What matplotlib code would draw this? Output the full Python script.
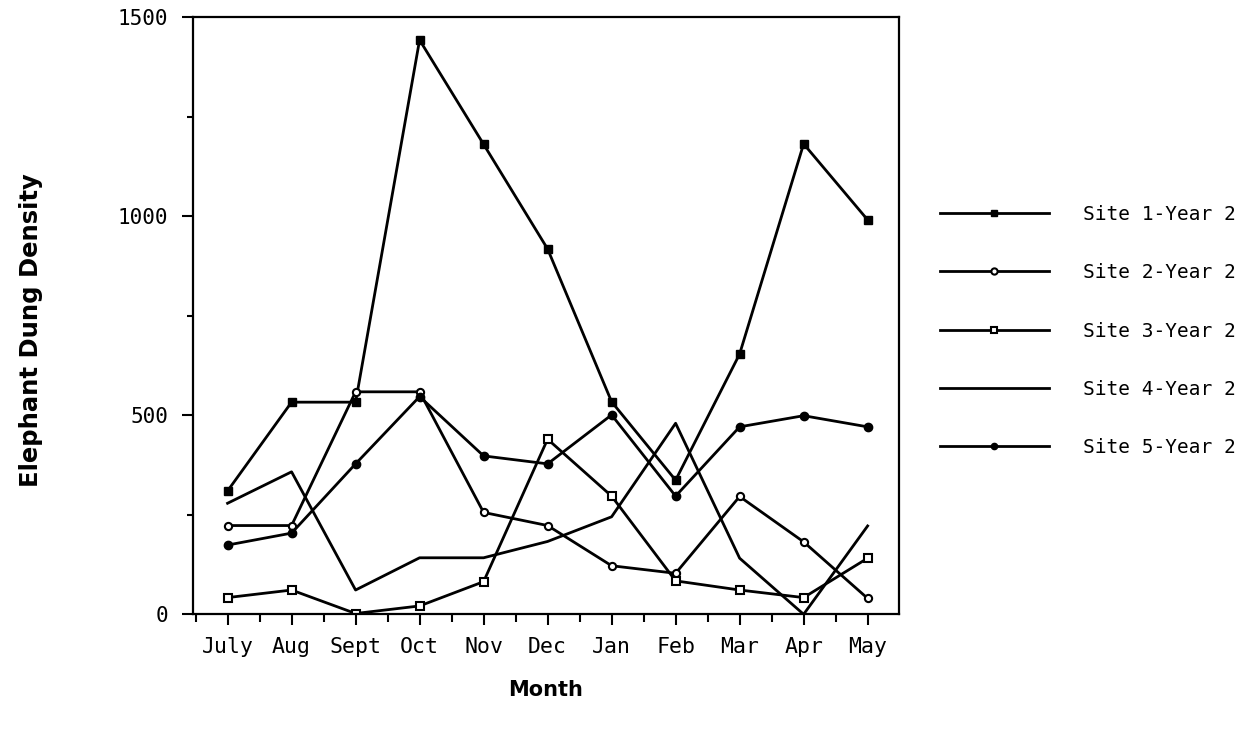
import matplotlib
matplotlib.use("Agg")
import matplotlib.pyplot as plt
from matplotlib.ticker import FixedLocator, MultipleLocator

# Monthly elephant dung density, second survey year
months = ["July", "Aug", "Sept", "Oct", "Nov", "Dec", "Jan", "Feb", "Mar", "Apr", "May"]
site1 = [310, 533, 533, 1443, 1181, 918, 534, 337, 654, 1182, 991]
site2 = [223, 223, 559, 559, 256, 223, 122, 103, 296, 182, 40]
site3 = [42, 61, 2, 21, 82, 440, 297, 84, 61, 42, 141]
site4 = [279, 358, 61, 142, 142, 183, 245, 480, 141, 0, 222]
site5 = [174, 204, 378, 547, 398, 378, 501, 297, 471, 499, 471]
series_labels = ["Site 1-Year 2", "Site 2-Year 2", "Site 3-Year 2",
                 "Site 4-Year 2", "Site 5-Year 2"]

W, H, DPI = 1257, 735, 100
fig = plt.figure(figsize=(W / DPI, H / DPI), dpi=DPI)
ax = fig.add_axes([193 / W, 1 - 614.3 / H, (899 - 193) / W, (614.3 - 17.3) / H])

x = list(range(len(months)))
lw = 2.0
styles = [
    dict(marker="s", ms=5.8, mfc="black", mec="black"),
    dict(marker="o", ms=5.2, mfc="white", mec="black", mew=1.5),
    dict(marker="s", ms=5.2, mfc="white", mec="black", mew=1.5),
    dict(marker=None),
    dict(marker="o", ms=6, mfc="black", mec="black"),
]
for vals, lab, st in zip([site1, site2, site3, site4, site5], series_labels, styles):
    ax.plot(x, vals, color="black", lw=lw, label=lab, **st)

ax.set_xlim(-0.54, 10.49)
ax.set_ylim(0, 1500)

mono = "DejaVu Sans Mono"
ax.set_xticks(x)
ax.set_xticklabels(months, fontfamily=mono, fontsize=15.5)
ax.xaxis.set_minor_locator(FixedLocator([i - 0.5 for i in range(len(months) + 1)]))
ax.set_yticks([0, 500, 1000, 1500])
ax.set_yticklabels(["0", "500", "1000", "1500"], fontfamily=mono, fontsize=15)
ax.yaxis.set_minor_locator(MultipleLocator(250))

ax.tick_params(axis="x", which="major", direction="out", length=8, width=1.5, pad=8)
ax.tick_params(axis="x", which="minor", direction="out", length=6, width=1.5)
ax.tick_params(axis="y", which="major", direction="out", length=8, width=1.5, pad=10)
ax.tick_params(axis="y", which="minor", direction="out", length=4, width=1.5)
for sp in ax.spines.values():
    sp.set_linewidth(1.6)

ax.set_xlabel("Month", fontsize=15, fontweight="bold", va="top")
ax.xaxis.set_label_coords(0.5, -0.11)
ax.set_ylabel("Elephant Dung Density", fontsize=17.5, fontweight="bold")
ax.yaxis.set_label_coords(-0.212, 0.476)

leg = ax.legend(loc="upper left", bbox_to_anchor=(940 / W, 1 - 205 / H),
                bbox_transform=fig.transFigure, frameon=False,
                prop=dict(family=mono, size=14), handlelength=5.6,
                handletextpad=1.75, labelspacing=2.02, numpoints=1,
                borderpad=0, borderaxespad=0)
for h in leg.legend_handles:
    h.set_markersize(4.5)

fig.savefig("out.png", dpi=DPI, facecolor="white")
